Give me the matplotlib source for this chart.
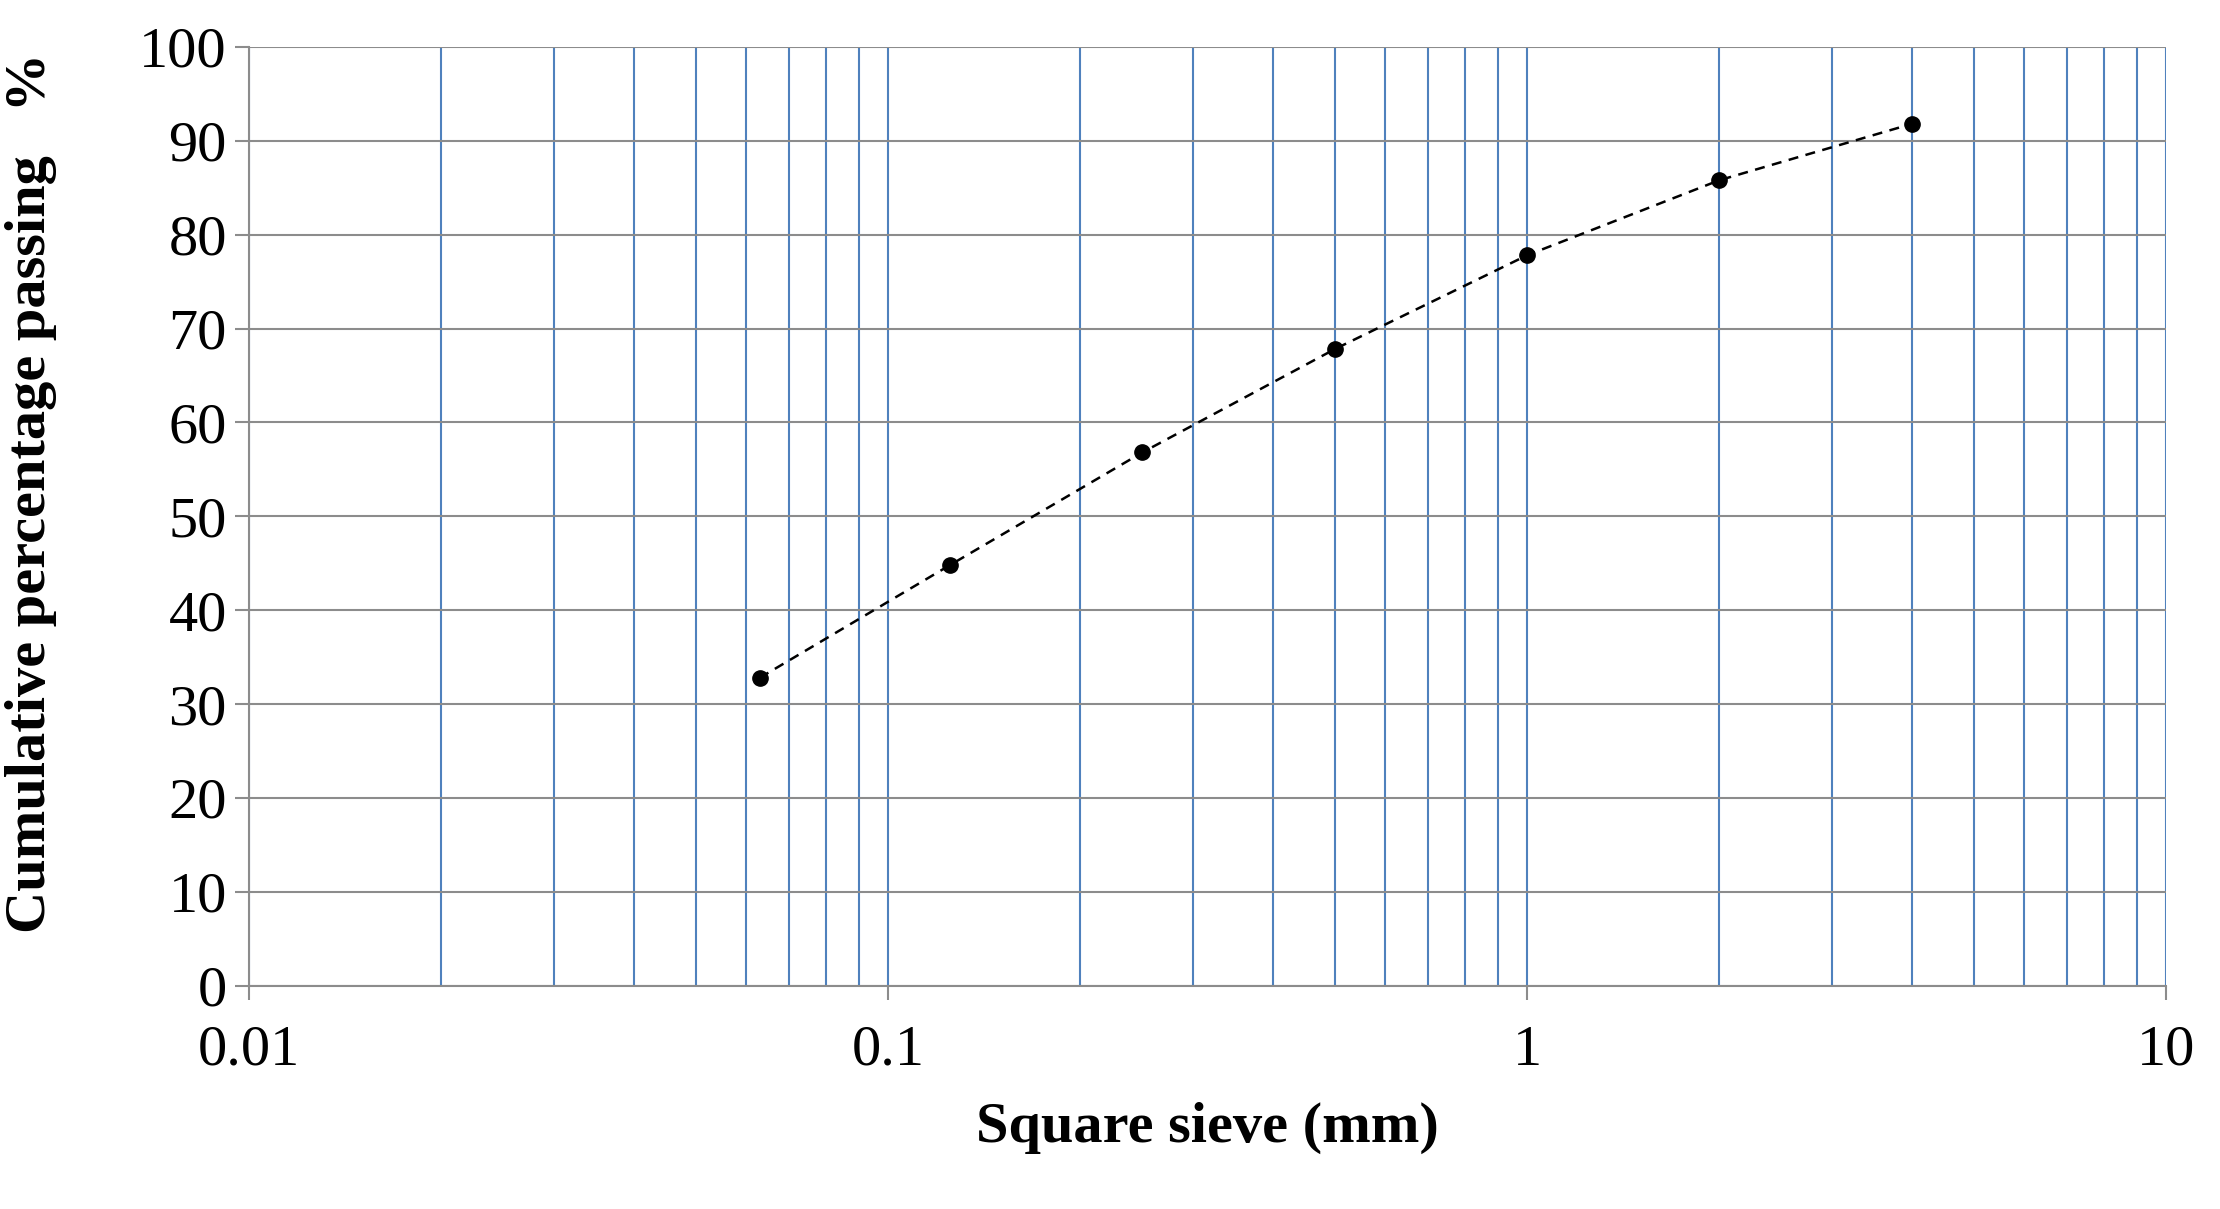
import matplotlib
matplotlib.use("Agg")
import matplotlib.pyplot as plt
import numpy as np

sieve_mm = [0.063, 0.125, 0.25, 0.5, 1, 2, 4]
passing = [32.8, 44.8, 56.8, 67.8, 77.8, 85.8, 91.8]

plt.rcParams['font.family'] = ['Liberation Serif', 'DejaVu Serif']
fig = plt.figure(figsize=(22.2, 12.09), dpi=100)
ax = fig.add_axes([175/1560, 1-693/850, (1522-175)/1560, (693-33)/850])
ax.set_xscale('log')
ax.set_xlim(0.01, 10)
ax.set_ylim(0, 100)
ax.set_yticks(np.arange(0, 101, 10))
ax.set_xticks([0.01, 0.1, 1, 10])
ax.set_xticklabels(['0.01', '0.1', '1', '10'])
ax.xaxis.set_minor_locator(matplotlib.ticker.LogLocator(base=10, subs=np.arange(2, 10)))
ax.xaxis.set_minor_formatter(matplotlib.ticker.NullFormatter())
ax.grid(True, axis='y', color='#8c8c8c', lw=1.5)
ax.grid(True, axis='x', which='both', color='#4f81bd', lw=1.5)
ax.set_axisbelow(True)
for s in ['top', 'right']:
    ax.spines[s].set_visible(False)
ax.spines['left'].set_color('#8c8c8c')
ax.spines['bottom'].set_color('#8c8c8c')
ax.spines['left'].set_linewidth(1.5)
ax.spines['bottom'].set_linewidth(1.5)
ax.tick_params(axis='both', which='major', labelsize=42, length=10, color='#8c8c8c', width=1.5)
ax.tick_params(axis='x', which='minor', length=0)
ax.tick_params(axis='y', direction='out', pad=6)
ax.tick_params(axis='x', direction='out', pad=18)
ax.plot(sieve_mm, passing, 'k--', lw=1.8, marker='o', ms=11, dashes=(4, 3))
ax.set_xlabel('Square sieve (mm)', fontsize=42, fontweight='bold', labelpad=18)
ax.set_ylabel('Cumulative percentage passing   %', fontsize=42, fontweight='bold')
ax.yaxis.set_label_coords(-0.1, 0.525)
fig.savefig('out.png', dpi=100)
